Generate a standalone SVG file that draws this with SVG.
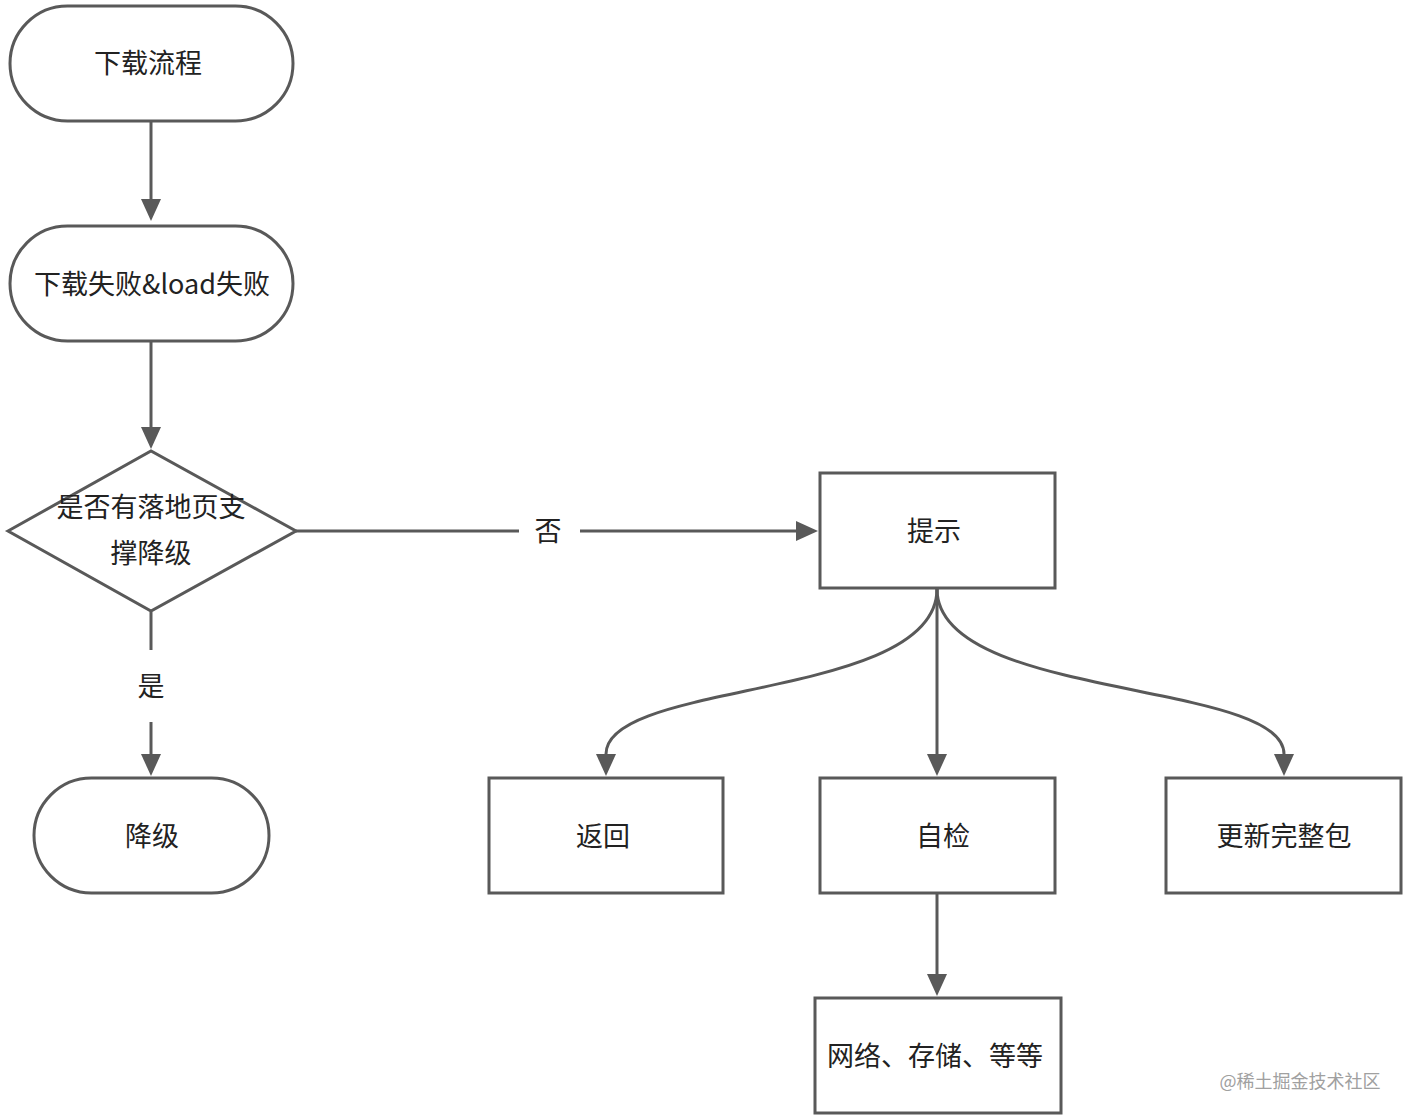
<svg xmlns="http://www.w3.org/2000/svg" width="1408" height="1120" viewBox="0 0 1408 1120">
<style>
.n{fill:#fff;stroke:#595959;stroke-width:3}
.t{font-family:"Noto Sans CJK SC","Noto Sans",sans-serif;font-size:27px;fill:#222;text-anchor:middle}
.c{fill:none;stroke:#595959;stroke-width:3}
.w{font-family:"Noto Sans CJK SC",sans-serif;font-size:18px;fill:#a0a0a0;text-anchor:middle}
</style>
<defs>
<marker id="ah" markerUnits="userSpaceOnUse" markerWidth="22" markerHeight="20" refX="0" refY="10" orient="auto" viewBox="0 0 22 20">
<path d="M0,0 L22,10 L0,20 z" fill="#595959"/>
</marker>
</defs>
<rect width="1408" height="1120" fill="#fff"/>
<g id="connectors">
<path class="c" d="M151,121 L151,199" marker-end="url(#ah)"/>
<path class="c" d="M151,341 L151,427" marker-end="url(#ah)"/>
<path class="c" d="M296,531 L519,531"/>
<path class="c" d="M580,531 L796,531" marker-end="url(#ah)"/>
<path class="c" d="M151,612 L151,650"/>
<path class="c" d="M151,722 L151,754" marker-end="url(#ah)"/>
<path class="c" d="M937,589 L937,754" marker-end="url(#ah)"/>
<path class="c" d="M937,589 C937,700 606,680 606,754" marker-end="url(#ah)"/>
<path class="c" d="M937,589 C937,700 1284,680 1284,754" marker-end="url(#ah)"/>
<path class="c" d="M937,894 L937,974" marker-end="url(#ah)"/>
<text class="t" x="548" y="541">否</text>
<text class="t" x="151" y="696">是</text>
</g>
<g id="start">
<rect class="n" x="10" y="6" width="283" height="115" rx="57.5"/>
<text class="t" x="148" y="73">下载流程</text>
</g>
<g id="fail">
<rect class="n" x="10" y="226" width="283" height="115" rx="57.5"/>
<text class="t" x="152" y="294">下载失败&amp;load失败</text>
</g>
<g id="decision">
<polygon class="n" points="8,531 151,451 296,531 151,611"/>
<text class="t" x="151" y="517">是否有落地页支</text>
<text class="t" x="151" y="563">撑降级</text>
</g>
<g id="downgrade">
<rect class="n" x="34" y="778" width="235" height="115" rx="57.5"/>
<text class="t" x="152" y="846">降级</text>
</g>
<g id="tip">
<rect class="n" x="820" y="473" width="235" height="115"/>
<text class="t" x="934" y="541">提示</text>
</g>
<g id="back">
<rect class="n" x="489" y="778" width="234" height="115"/>
<text class="t" x="603" y="846">返回</text>
</g>
<g id="selfcheck">
<rect class="n" x="820" y="778" width="235" height="115"/>
<text class="t" x="943" y="846">自检</text>
</g>
<g id="update">
<rect class="n" x="1166" y="778" width="235" height="115"/>
<text class="t" x="1284" y="846">更新完整包</text>
</g>
<g id="network">
<rect class="n" x="815" y="998" width="246" height="115"/>
<text class="t" x="935" y="1066">网络、存储、等等</text>
</g>
<text class="w" x="1300" y="1088">@稀土掘金技术社区</text>
</svg>
